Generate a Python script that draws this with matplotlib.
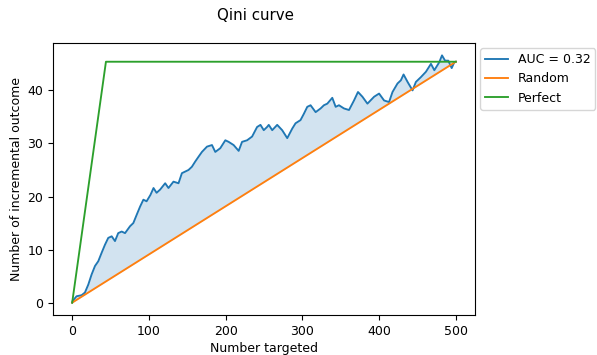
import matplotlib
matplotlib.use('Agg')
import matplotlib.pyplot as plt
import numpy as np

# data -----------------------------------------------------------------------------------------
n_total = 500
total_uplift = 45.4
perfect_x = [0, 44, 500]
perfect_y = [0, 45.4, 45.4]

qini_x = [0, 0.5, 5.7, 12.3, 16.6, 21, 25.3, 29.7, 34, 38.4, 42.7, 47, 51.5, 55.8, 60,
          64.5, 68.9, 75.4, 79.7, 84.2, 88.5, 92.8, 97, 102, 106, 110, 114.6, 121.2,
          125.5, 132, 138.6, 143, 147.3, 151.6, 156, 160.4, 164.7, 169.1, 175.7, 182.2,
          186.5, 193, 199.6, 203.9, 210.4, 217, 221.4, 228, 234.5, 241, 245.4, 249.7,
          254, 256.2, 260.7, 267.2, 273.7, 280.3, 286.8, 291.1, 297.6, 302, 306.4,
          310.7, 317.3, 323.8, 328.1, 332.5, 339, 343.4, 347.7, 354.2, 360.8, 367.3,
          372.5, 378.3, 384.8, 393.5, 400, 406.5, 413, 417.5, 424, 428.4, 431.9, 437.1,
          443.6, 448, 454.5, 461, 467.6, 472, 478.4, 482, 486, 490.2, 494.6, 498, 500]
qini_y = [0, 0.3, 1.2, 1.4, 1.9, 3.4, 5.3, 6.9, 7.8, 9.4, 10.9, 12.2, 12.5, 11.6, 13.1,
          13.4, 13.1, 14.4, 15.0, 16.6, 18.1, 19.4, 19.1, 20.3, 21.6, 20.7, 21.3, 22.5,
          21.6, 22.8, 22.5, 24.4, 24.7, 25.0, 25.6, 26.6, 27.5, 28.4, 29.4, 29.7,
          28.4, 29.1, 30.6, 30.3, 29.7, 28.6, 30.3, 30.6, 31.3, 33.1, 33.5, 32.5,
          33.1, 33.5, 32.5, 33.5, 32.5, 31.0, 32.8, 33.8, 34.4, 35.6, 36.9,
          37.2, 35.9, 36.6, 37.2, 37.5, 38.6, 36.9, 37.2, 36.6, 36.3, 38.1,
          39.7, 38.8, 37.5, 38.8, 39.4, 38.1, 37.8, 39.7, 41.3, 41.9, 43.0, 41.6,
          40.0, 41.6, 42.5, 43.5, 45.0, 43.8, 45.3, 46.6, 45.6, 45.6, 44.2, 45.3, 45.4]
auc = 0.32

# plot -------------------------------------------------------------------------------------------
plt.rcParams['font.size'] = 9
plt.rcParams['lines.linewidth'] = 1.35

qx = np.array(qini_x)
random_y = qx * total_uplift / n_total

fig = plt.figure(figsize=(5.97, 3.55), dpi=100)
ax = fig.add_axes([53 / 597, 1 - 315 / 355, 422 / 597, 272 / 355])

ax.plot(qini_x, qini_y, color='C0', label=f'AUC = {auc}')
ax.plot([0, n_total], [0, total_uplift], color='C1', label='Random')
ax.plot(perfect_x, perfect_y, color='C2', label='Perfect')
ax.fill_between(qx, qini_y, random_y, color='C0', alpha=0.2, linewidth=0)

ax.set_xlabel('Number targeted', labelpad=3)
ax.set_ylabel('Number of incremental outcome', labelpad=3)
ax.legend(loc='upper left', bbox_to_anchor=(1.0, 1.0), fontsize=9,
          handlelength=1.8, borderaxespad=0.4)
fig.text(255 / 597, 1 - 16 / 355, 'Qini curve', ha='center', va='center', fontsize=10.8)

fig.savefig('out.png', dpi=100)
